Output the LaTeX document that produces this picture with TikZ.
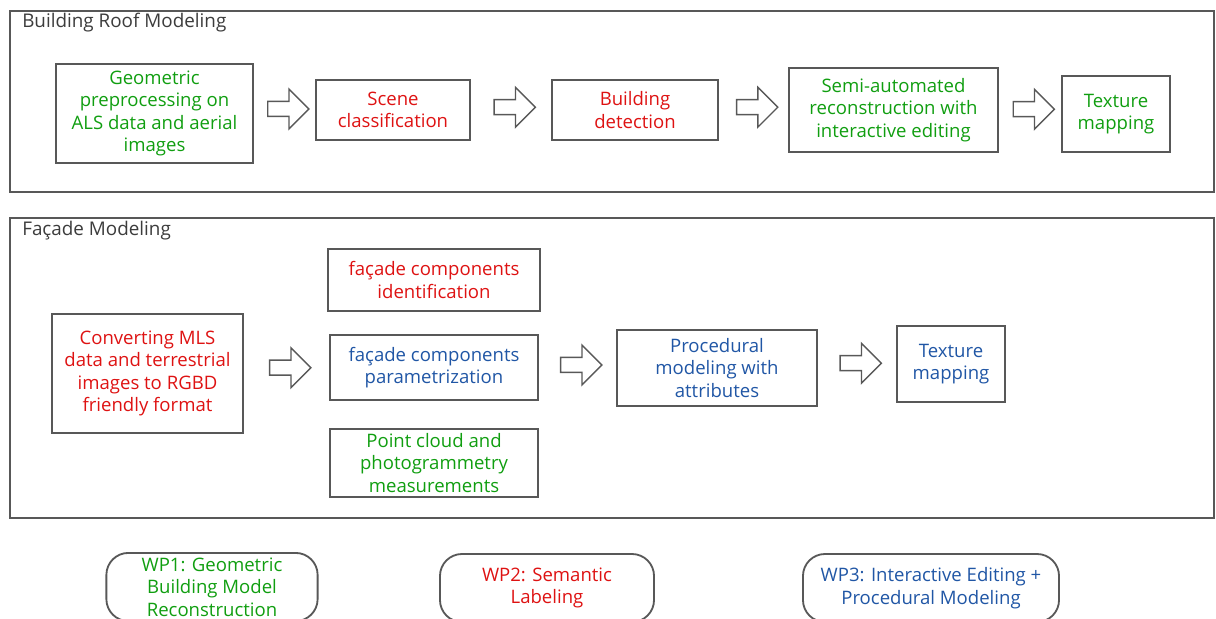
\documentclass[tikz,border=0pt]{standalone}
\usepackage{fontspec}
\setmainfont{Open Sans}
\usetikzlibrary{shapes.arrows}
\definecolor{wpgreen}{RGB}{16,158,16}
\definecolor{wpred}{RGB}{222,18,18}
\definecolor{wpblue}{RGB}{32,86,165}
\definecolor{linegray}{RGB}{88,88,88}
\definecolor{titlegray}{RGB}{60,60,60}
\tikzset{
  panel/.style= {draw=linegray, line width=1pt},
  paneltitle/.style= {anchor=west, inner sep=0, text=titlegray, font=\fontsize{13.4}{16}\selectfont},
  procbox/.style= {draw=linegray, line width=1.3pt, align=center, inner sep=1pt, font=\fontsize{13.2}{16}\selectfont},
  blockarrow/.style= {single arrow, draw=linegray, line width=1pt, fill=white, inner xsep=0, inner ysep=0.17cm,
    minimum height=1.03cm, single arrow head extend=0.31cm, yshift=2pt},
  pill/.style= {draw=linegray, line width=1.3pt, rounded corners=0.55cm, minimum height=1.7cm,
    align=center, font=\fontsize{13.2}{16}\selectfont},
}

\begin{document}
\begin{tikzpicture}[x=0.025cm, y=-0.025cm]
  \useasboundingbox (0,0) rectangle (1216,618) ;

  % panels
  \node [panel, minimum width=30.1cm, minimum height=4.525cm] (roof) at (612,101.5) {} ;
  \node [panel, minimum width=30.1cm, minimum height=7.5cm] (facade) at (612,368) {} ;
  \node [paneltitle] (rooftitle) at (22,23) {Building Roof Modeling} ;
  \node [paneltitle] (facadetitle) at (22,231) {Façade Modeling} ;

  % roof steps
  \node [procbox, text=wpgreen, minimum width=4.93cm, minimum height=2.48cm] (geo) at (154.5,113.5) {Geometric\\preprocessing on\\ALS data and aerial\\images} ;
  \node [procbox, text=wpred, minimum width=3.85cm, minimum height=1.5cm] (scene) at (393,110) {Scene\\classification} ;
  \node [procbox, text=wpred, minimum width=4.15cm, minimum height=1.5cm] (detect) at (635,110) {Building\\detection} ;
  \node [procbox, text=wpgreen, minimum width=5.23cm, minimum height=2.1cm] (semi) at (893.5,110) {Semi-automated\\reconstruction with\\interactive editing} ;
  \node [procbox, text=wpgreen, minimum width=2.7cm, minimum height=1.9cm] (rooftex) at (1116,114) {Texture\\mapping} ;

  % facade steps
  \node [procbox, text=wpred, minimum width=4.78cm, minimum height=2.98cm] (conv) at (147.5,373.5) {Converting MLS\\data and terrestrial\\images to RGBD\\friendly format} ;
  \node [procbox, text=wpred, minimum width=5.3cm, minimum height=1.55cm] (ident) at (434,280) {façade components\\identification} ;
  \node [procbox, text=wpblue, minimum width=5.2cm, minimum height=1.63cm] (param) at (434,367.5) {façade components\\parametrization} ;
  \node [procbox, text=wpgreen, minimum width=5.2cm, minimum height=1.7cm] (cloud) at (434,463) {Point cloud and\\photogrammetry\\measurements} ;
  \node [procbox, text=wpblue, minimum width=5cm, minimum height=1.9cm] (proc) at (717,368) {Procedural\\modeling with\\attributes} ;
  \node [procbox, text=wpblue, minimum width=2.7cm, minimum height=1.9cm] (factex) at (951,364) {Texture\\mapping} ;

  % block arrows
  \path (geo.east) -- node [blockarrow] (a1) {} (scene.west) ;
  \path (scene.east) -- node [blockarrow] (a2) {} (detect.west) ;
  \path (detect.east) -- node [blockarrow] (a3) {} (semi.west) ;
  \path (semi.east) -- node [blockarrow] (a4) {} (rooftex.west) ;
  \path (conv.east) -- node [blockarrow] (a5) {} (param.west) ;
  \path (param.east) -- node [blockarrow] (a6) {} (proc.west) ;
  \path (proc.east) -- node [blockarrow] (a7) {} (factex.west) ;

  % legend
  \node [pill, text=wpgreen, minimum width=5.28cm] (wp1) at (212,587) {WP1: Geometric\\Building Model\\Reconstruction} ;
  \node [pill, text=wpred, minimum width=5.35cm] (wp2) at (547,588) {WP2: Semantic\\Labeling} ;
  \node [pill, text=wpblue, minimum width=6.4cm] (wp3) at (931,588) {WP3: Interactive Editing +\\Procedural Modeling} ;
\end{tikzpicture}
\end{document}
